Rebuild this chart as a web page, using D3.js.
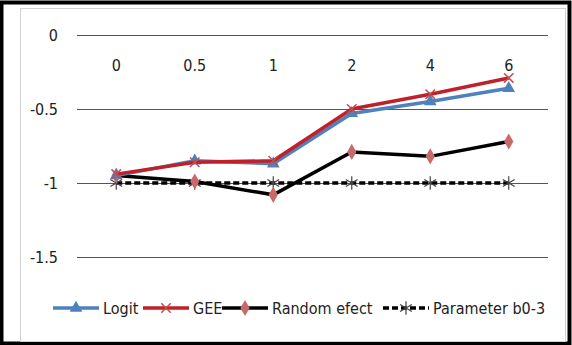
<!DOCTYPE html>
<html>
<head>
<meta charset="utf-8">
<script src="https://cdn.jsdelivr.net/npm/d3@7"></script>
<style>
  body { margin: 0; background: #fff; }
  text { font-family: "Liberation Sans Narrow", "DejaVu Sans Condensed", sans-serif; fill: #222; }
</style>
</head>
<body>
<div id="chart"></div>
<script>
const categories = ["0", "0.5", "1", "2", "4", "6"];
const logit = [-0.95, -0.85, -0.87, -0.53, -0.45, -0.36];
const gee = [-0.94, -0.86, -0.85, -0.50, -0.40, -0.29];
const randomEfect = [-0.95, -0.99, -1.08, -0.79, -0.82, -0.72];
const parameter = [-1, -1, -1, -1, -1, -1];
const yTicks = [0, -0.5, -1, -1.5];

const width = 572, height = 345;
const margin = { top: 35, right: 24, bottom: 88, left: 77 };

const svg = d3.select("#chart").append("svg")
    .attr("width", width)
    .attr("height", height);

// outer frame and inner chart box
svg.append("rect").attr("x", 1.5).attr("y", 2.5).attr("width", width - 4).attr("height", height - 4)
    .attr("fill", "none").attr("stroke", "#000").attr("stroke-width", 4);
svg.append("rect").attr("x", 20.5).attr("y", 8.5).attr("width", 545).attr("height", 333)
    .attr("fill", "#fff").attr("stroke", "#d0d0d0");

const x = d3.scaleBand(categories, [margin.left, width - margin.right]);
const y = d3.scaleLinear([-1.5, 0], [height - margin.bottom, margin.top]);
const cx = d => x(d) + x.bandwidth() / 2;

// gridlines + y labels
const yAxis = d3.axisLeft(y).tickValues(yTicks).tickSize(-(width - margin.right - margin.left))
    .tickFormat(d => d).tickPadding(19);
svg.append("g").attr("transform", `translate(${margin.left},0)`).call(yAxis)
    .call(g => g.select(".domain").remove())
    .call(g => g.selectAll("line").attr("stroke", "#555").attr("stroke-width", 1))
    .call(g => g.selectAll("text").attr("font-size", 16).attr("fill", "#222")
        .style("font-family", "'Liberation Sans Narrow', 'DejaVu Sans Condensed', sans-serif"));

// category labels (axis placed near the top)
svg.append("g").selectAll("text").data(categories).join("text")
    .attr("x", d => cx(d)).attr("y", 71)
    .attr("text-anchor", "middle").attr("font-size", 16)
    .text(d => d);

const series = [
  { name: "Logit", values: logit, color: "#4f81bd", width: 3.5, dash: null, marker: "triangle", mcolor: "#4f81bd" },
  { name: "GEE", values: gee, color: "#c0202a", width: 3.5, dash: null, marker: "x", mcolor: "#c0504d" },
  { name: "Random efect", values: randomEfect, color: "#000", width: 3.5, dash: null, marker: "diamond", mcolor: "#c96a6a" },
  { name: "Parameter b0-3", values: parameter, color: "#000", width: 3.5, dash: "6,3", marker: "star", mcolor: "#444" }
];

const line = d3.line().x(d => cx(d.c)).y(d => y(d.v));

function drawMarker(g, s, px, py) {
  if (s.marker === "triangle") {
    g.append("path").attr("d", d3.symbol(d3.symbolTriangle, 70)())
      .attr("transform", `translate(${px},${py})`).attr("fill", s.mcolor);
  } else if (s.marker === "diamond") {
    g.append("path").attr("d", d3.symbol(d3.symbolDiamond, 75)())
      .attr("transform", `translate(${px},${py})`).attr("fill", s.mcolor);
  } else if (s.marker === "x") {
    g.append("path").attr("d", d3.symbol(d3.symbolX, 60)())
      .attr("transform", `translate(${px},${py})`).attr("fill", "none")
      .attr("stroke", s.mcolor).attr("stroke-width", 1.5);
  } else {
    g.append("path").attr("d", d3.symbol(d3.symbolAsterisk, 130)())
      .attr("transform", `translate(${px},${py})`).attr("fill", "none")
      .attr("stroke", s.mcolor).attr("stroke-width", 1.2);
  }
}

const order = [3, 2, 0, 1];
order.forEach(i => {
  const s = series[i];
  const pts = s.values.map((v, j) => ({ c: categories[j], v }));
  const g = svg.append("g");
  g.append("path").datum(pts).attr("d", line)
    .attr("fill", "none").attr("stroke", s.color).attr("stroke-width", s.width)
    .attr("stroke-dasharray", s.dash);
  pts.forEach(p => drawMarker(g, s, cx(p.c), y(p.v)));
});

// legend
const legendX = [53, 143, 222, 383];
const legendY = 308;
series.forEach((s, i) => {
  const g = svg.append("g").attr("transform", `translate(${legendX[i]},${legendY})`);
  g.append("line").attr("x1", 0).attr("x2", 46).attr("y1", 0).attr("y2", 0)
    .attr("stroke", s.color).attr("stroke-width", 3.5).attr("stroke-dasharray", s.dash);
  drawMarker(g, s, 23, 0);
  g.append("text").attr("x", 50).attr("y", 6).attr("font-size", 16).text(s.name);
});
</script>
</body>
</html>
